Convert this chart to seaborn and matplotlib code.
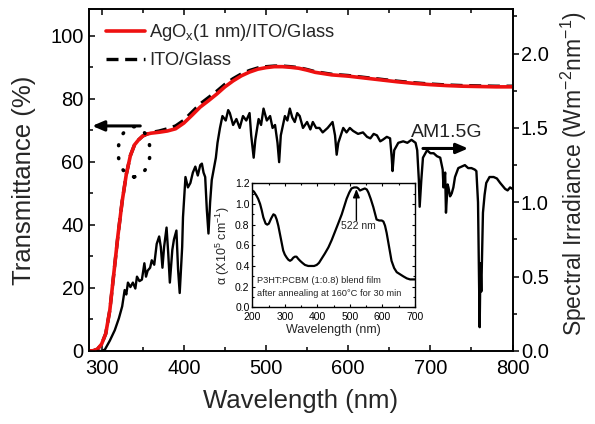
import matplotlib
matplotlib.use("Agg")
import matplotlib.pyplot as plt
import seaborn as sns
import pandas as pd
from matplotlib.patches import Ellipse
from matplotlib.ticker import MultipleLocator

# ---------------- data ----------------
# Transmittance (%)
t_wl = [285, 290, 295, 300, 305, 310, 315, 320, 325, 330, 335, 340, 345, 350, 355, 360,
        370, 380, 390, 400, 410, 420, 430, 440, 450, 460, 470, 480, 490, 500, 510, 520,
        530, 540, 550, 560, 580, 600, 620, 640, 660, 680, 700, 720, 740, 760, 780, 800]
t_agox = [0, 0.1, 0.6, 2.2, 5.5, 13, 25, 37, 47.5, 56, 62, 65.4, 67, 68.2, 68.8, 69.1,
          69.4, 69.8, 70.5, 72.3, 74.8, 77.4, 79.4, 81.5, 83.8, 85.7, 87.3, 88.5, 89.4, 89.9, 90.2, 90.2,
          90.0, 89.7, 89.1, 88.4, 87.6, 87.2, 86.6, 86.0, 85.4, 84.9, 84.5, 84.2, 84.0, 83.9, 83.8, 83.8]
t_ito = [0, 0.1, 0.6, 2.2, 5.5, 13, 25, 37, 47.5, 56, 62, 65.4, 67, 68.2, 68.8, 69.3,
         69.8, 70.5, 71.4, 73.2, 75.8, 78.4, 80.4, 82.4, 84.6, 86.4, 87.9, 89.0, 89.8, 90.2, 90.4, 90.4,
         90.2, 89.9, 89.3, 88.6, 87.8, 87.4, 86.8, 86.2, 85.6, 85.1, 84.7, 84.4, 84.2, 84.1, 84.0, 84.0]

# AM1.5G spectral irradiance (W m^-2 nm^-1)
am_wl = [295, 300, 304, 310, 316, 321, 325, 328, 330, 332, 335, 338, 341, 343, 346, 349, 352, 354,
         356, 359, 361, 364, 367, 370, 372, 374, 376, 379, 381, 383, 386, 388, 391, 393, 395, 398,
         399, 402, 405, 408, 411, 414, 417, 420, 422, 424, 426, 428, 430, 432, 434, 436, 439, 441,
         444, 447, 451, 454, 456, 460, 464, 468, 472, 476, 480, 482, 485, 487, 491, 494, 497, 501,
         505, 508, 511, 514, 516, 518, 523, 526, 529, 532, 535, 538, 541, 545, 550, 554, 557, 561,
         565, 569, 575, 581, 584, 586, 588, 594, 598, 602, 606, 612, 618, 623, 627, 631, 635, 639,
         642, 647, 651, 653, 654, 656, 661, 667, 672, 677, 682, 684, 686, 687, 689, 691, 696, 700,
         704, 708, 712, 715, 716, 718, 719, 721, 722, 724, 726, 728, 730, 734, 738, 742, 746, 750,
         754, 756, 758, 759, 760, 761, 762, 764, 766, 768, 772, 777, 781, 785, 788, 791, 794, 797, 800]
am_irr = [0.0, 0.0, 0.01, 0.07, 0.14, 0.22, 0.30, 0.41, 0.38, 0.46, 0.43, 0.46, 0.42, 0.50, 0.47, 0.48, 0.59, 0.50,
          0.54, 0.56, 0.61, 0.58, 0.72, 0.77, 0.70, 0.56, 0.70, 0.83, 0.66, 0.46, 0.68, 0.75, 0.81, 0.55, 0.39, 0.70,
          0.90, 1.17, 1.10, 1.13, 1.20, 1.24, 1.18, 1.25, 1.26, 1.20, 1.17, 0.95, 0.79, 1.00, 1.15, 1.21, 1.30, 1.40,
          1.50, 1.58, 1.55, 1.62, 1.60, 1.52, 1.56, 1.50, 1.58, 1.55, 1.60, 1.45, 1.30, 1.42, 1.56, 1.52, 1.63, 1.55,
          1.58, 1.50, 1.52, 1.40, 1.27, 1.45, 1.58, 1.55, 1.63, 1.57, 1.54, 1.60, 1.58, 1.50, 1.54, 1.49, 1.54, 1.50,
          1.50, 1.47, 1.50, 1.54, 1.45, 1.32, 1.40, 1.50, 1.47, 1.50, 1.48, 1.46, 1.47, 1.44, 1.43, 1.46, 1.45, 1.41,
          1.42, 1.44, 1.43, 1.30, 1.21, 1.35, 1.40, 1.41, 1.40, 1.42, 1.40, 1.35, 1.15, 0.97, 1.15, 1.30, 1.35, 1.33,
          1.33, 1.31, 1.30, 1.22, 1.10, 1.20, 0.93, 1.12, 1.10, 1.04, 1.06, 1.10, 1.17, 1.23, 1.24, 1.25, 1.23, 1.23,
          1.22, 1.21, 1.00, 0.60, 0.16, 0.59, 0.40, 0.93, 1.05, 1.13, 1.17, 1.17, 1.16, 1.13, 1.11, 1.09, 1.08, 1.10, 1.09]

# Inset: absorption coefficient of P3HT:PCBM film (x10^5 cm^-1)
a_wl = [200, 205, 213, 218, 224, 229, 234, 241, 246, 251, 258, 265, 270, 275, 280, 285, 290, 295, 300,
        306, 311, 316, 321, 326, 331, 336, 341, 347, 354, 362, 372, 382, 390, 398, 405, 413, 423, 434,
        444, 454, 464, 475, 483, 490, 498, 505, 513, 521, 526, 531, 538, 546, 552, 557, 564, 572, 577,
        582, 590, 598, 603, 608, 613, 618, 623, 628, 636, 644, 654, 664, 675, 685, 700]
a_val = [1.13, 1.12, 1.08, 1.05, 1.00, 0.94, 0.87, 0.81, 0.80, 0.81, 0.86, 0.90, 0.89, 0.85, 0.79, 0.71, 0.63, 0.55, 0.51,
         0.48, 0.46, 0.45, 0.46, 0.48, 0.49, 0.49, 0.47, 0.45, 0.43, 0.41, 0.40, 0.40, 0.40, 0.41, 0.43, 0.47, 0.52, 0.58,
         0.65, 0.73, 0.81, 0.90, 0.98, 1.05, 1.11, 1.15, 1.16, 1.16, 1.15, 1.13, 1.14, 1.15, 1.14, 1.11, 1.05, 0.97, 0.91,
         0.85, 0.84, 0.84, 0.83, 0.79, 0.72, 0.63, 0.54, 0.45, 0.38, 0.34, 0.32, 0.30, 0.28, 0.27, 0.27]

x_ticks = [300, 400, 500, 600, 700, 800]
t_ticks = [0, 20, 40, 60, 80, 100]
irr_ticks = [0.0, 0.5, 1.0, 1.5, 2.0]
inset_xticks = [200, 300, 400, 500, 600, 700]
inset_yticks = [0.0, 0.2, 0.4, 0.6, 0.8, 1.0, 1.2]

trans_df = pd.DataFrame({"wl": t_wl, "agox": t_agox, "ito": t_ito})
am_df = pd.DataFrame({"wl": am_wl, "irr": am_irr})
abs_df = pd.DataFrame({"wl": a_wl, "alpha": a_val})

# ---------------- style ----------------
sns.set_style("ticks")
plt.rcParams["font.family"] = ["Liberation Sans", "DejaVu Sans"]
plt.rcParams["mathtext.default"] = "regular"
plt.rcParams["axes.linewidth"] = 1.2
plt.rcParams["axes.edgecolor"] = "black"
plt.rcParams["xtick.color"] = "black"
plt.rcParams["ytick.color"] = "black"

RED = "#ee1111"

fig = plt.figure(figsize=(5.95, 4.24), dpi=100)
ax = fig.add_axes([0.1501, 0.1722, 0.7113, 0.8066])
ax2 = ax.twinx()

# transmittance curves
sns.lineplot(data=trans_df, x="wl", y="ito", ax=ax, color="black", lw=2.4,
             linestyle=(0, (3.6, 2.0)), label="ITO/Glass", estimator=None, zorder=2)
sns.lineplot(data=trans_df, x="wl", y="agox", ax=ax, color=RED, lw=2.6,
             label="AgO$_x$(1 nm)/ITO/Glass", estimator=None, zorder=3)

# spectrum
sns.lineplot(data=am_df, x="wl", y="irr", ax=ax2, color="black", lw=1.7, estimator=None)

ax.set_xlim(285, 800)
ax.set_ylim(0, 108.5)
ax2.set_ylim(0, 2.3)
ax.set_xticks(x_ticks)
ax.set_yticks(t_ticks)
ax2.set_yticks(irr_ticks)
ax2.set_yticklabels([f"{v:.1f}" for v in irr_ticks])
ax.xaxis.set_minor_locator(MultipleLocator(50))
ax.yaxis.set_minor_locator(MultipleLocator(10))
ax2.yaxis.set_minor_locator(MultipleLocator(0.25))

ax.tick_params(axis="both", which="both", direction="in", top=True, right=False,
               labelsize=14.5, width=1.1)
ax.tick_params(which="major", length=4.5)
ax.tick_params(which="minor", length=3)
ax.tick_params(axis="x", pad=6)
ax.tick_params(axis="y", pad=4)
ax2.tick_params(axis="y", which="both", direction="out", labelsize=14.5, width=1.1, pad=2)
ax2.tick_params(which="major", length=4)
ax2.tick_params(which="minor", length=3)

ax.set_xlabel("Wavelength (nm)", fontsize=18.5, labelpad=8)
ax.set_ylabel("Transmittance (%)", fontsize=18.5, labelpad=10)
ax2.set_ylabel("Spectral Irradiance (Wm$^{-2}$nm$^{-1}$)", fontsize=16.5)
ax2.yaxis.set_label_coords(1.11, 0.52)

handles, labels = ax.get_legend_handles_labels()
order = [labels.index("AgO$_x$(1 nm)/ITO/Glass"), labels.index("ITO/Glass")]
ax.legend([handles[i] for i in order], [labels[i] for i in order],
          loc="upper left", bbox_to_anchor=(106 / 595, 1 - 22 / 424),
          bbox_transform=fig.transFigure, frameon=False, fontsize=13.2,
          handlelength=2.1, handletextpad=0.25, labelspacing=0.5,
          borderpad=0, borderaxespad=0)

# annotations on main plot
ax.add_patch(Ellipse((339.5, 63.2), 38.9, 15.9, fill=False, edgecolor="black",
                     lw=2.6, linestyle=(0, (0.2, 3.4)), capstyle="round", zorder=4))
ax.annotate("", xy=(288.5, 71.4), xytext=(347, 71.4),
            arrowprops=dict(arrowstyle="-|>,head_length=0.7,head_width=0.3",
                            color="black", lw=2.2, shrinkA=0, shrinkB=0))
ax2.annotate("", xy=(746, 1.362), xytext=(691, 1.362),
             arrowprops=dict(arrowstyle="-|>,head_length=0.7,head_width=0.3",
                             color="black", lw=2.2, shrinkA=0, shrinkB=0))
ax2.text(720, 1.47, "AM1.5G", fontsize=14, ha="center", va="center", color="#222222")

# ---------------- inset ----------------
axin = fig.add_axes([0.4240, 0.2752, 0.2734, 0.2925])
axin.set_zorder(10)
axin.set_facecolor("white")
sns.lineplot(data=abs_df, x="wl", y="alpha", ax=axin, color="black", lw=1.6, estimator=None)
axin.set_xlim(200, 700)
axin.set_ylim(0, 1.2)
axin.set_xticks(inset_xticks)
axin.set_yticks(inset_yticks)
axin.set_yticklabels([f"{v:.1f}" for v in inset_yticks])
axin.xaxis.set_minor_locator(MultipleLocator(50))
axin.yaxis.set_minor_locator(MultipleLocator(0.1))
axin.tick_params(axis="both", which="both", direction="in", top=True, right=True,
                 labelsize=7.5, width=0.8, pad=2)
axin.tick_params(axis="x", pad=3.5)
axin.tick_params(which="major", length=2.5)
axin.tick_params(which="minor", length=1.5)
for s in axin.spines.values():
    s.set_linewidth(1.0)
axin.set_xlabel("Wavelength (nm)", fontsize=9, labelpad=1)
axin.set_ylabel("α (X10$^{5}$ cm$^{-1}$)", fontsize=9, labelpad=2)
axin.annotate("", xy=(520, 1.145), xytext=(520, 0.84),
              arrowprops=dict(arrowstyle="-|>,head_length=0.5,head_width=0.2",
                              color="black", lw=1.0, shrinkA=0, shrinkB=0))
axin.text(526, 0.79, "522 nm", fontsize=7.5, ha="center", va="center")
axin.text(216, 0.258, "P3HT:PCBM (1:0.8) blend film", fontsize=6.7, ha="left", va="center")
axin.text(216, 0.135, "after annealing at 160°C for 30 min", fontsize=6.7, ha="left", va="center")

fig.savefig("out.png", dpi=100)
